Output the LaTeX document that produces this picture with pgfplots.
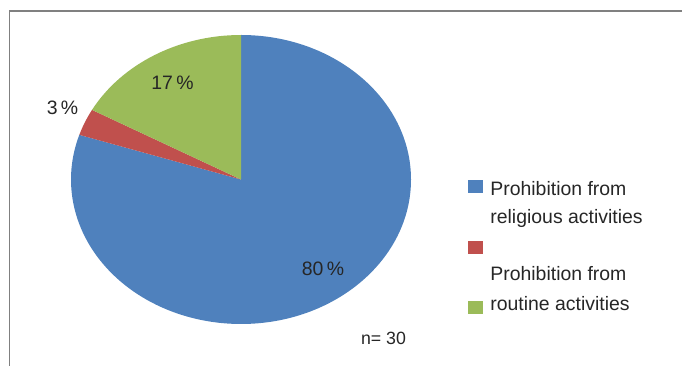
\documentclass[border=0pt]{standalone}
\usepackage{pgfplots}
\pgfplotsset{compat=1.18}
\usepackage{fontspec}
\setmainfont{Liberation Sans}
\definecolor{cblue}{HTML}{4F81BD}
\definecolor{cred}{HTML}{C0504D}
\definecolor{cgreen}{HTML}{9BBB59}
\definecolor{ctext}{HTML}{262626}
\definecolor{cframe}{HTML}{808080}
% slice values (percent)
\def\vA{80}\def\vB{3}\def\vC{17}
\begin{document}
\begin{tikzpicture}[font=\fontsize{9.75}{11}\selectfont, text=ctext]
\begin{axis}[
  scale only axis, width=341bp, height=183bp,
  xmin=0, xmax=682, ymin=0, ymax=366,
  hide axis, clip=false]
\coordinate (BL) at (axis cs:0,0);
\coordinate (TR) at (axis cs:682,366);
% frame
\draw[cframe, line width=0.8bp] (axis cs:9.5,0) -- (axis cs:9.5,355) -- (axis cs:682,355);
% pie
\pgfmathsetmacro{\aA}{90}
\pgfmathsetmacro{\aB}{90-3.6*\vA}
\pgfmathsetmacro{\aC}{\aB-3.6*\vB}
\pgfmathsetmacro{\aD}{\aC-3.6*\vC}
\def\cx{241}\def\cy{186.5}\def\rx{170}\def\ry{144.5}
\fill[cblue] (axis cs:\cx,\cy) -- (axis cs:{\cx+\rx*cos(\aA)},{\cy+\ry*sin(\aA)}) arc[start angle=\aA, end angle=\aB, x radius=85bp, y radius=72.25bp] -- cycle;
\fill[cred] (axis cs:\cx,\cy) -- (axis cs:{\cx+\rx*cos(\aB)},{\cy+\ry*sin(\aB)}) arc[start angle=\aB, end angle=\aC, x radius=85bp, y radius=72.25bp] -- cycle;
\fill[cgreen] (axis cs:\cx,\cy) -- (axis cs:{\cx+\rx*cos(\aC)},{\cy+\ry*sin(\aC)}) arc[start angle=\aC, end angle=\aD, x radius=85bp, y radius=72.25bp] -- cycle;
% labels
\node at (axis cs:323,97) {80\,\%};
\node at (axis cs:172.5,283.5) {17\,\%};
\node at (axis cs:62.5,258.5) {3\,\%};
\node[font=\fontsize{8.9}{10}\selectfont] at (axis cs:383.5,27.5) {n= 30};
% legend
\fill[cblue] (axis cs:467.7,186) rectangle (axis cs:482.7,173.3);
\fill[cred] (axis cs:467.7,125) rectangle (axis cs:482.7,112.3);
\fill[cgreen] (axis cs:467.7,65) rectangle (axis cs:482.7,52);
\node[anchor=base west, inner sep=0pt] at (axis cs:490,170.3) {Prohibition from};
\node[anchor=base west, inner sep=0pt] at (axis cs:490,142) {religious activities};
\node[anchor=base west, inner sep=0pt] at (axis cs:490,85.3) {Prohibition from};
\node[anchor=base west, inner sep=0pt] at (axis cs:490,56) {routine activities};
\end{axis}
\pgfresetboundingbox
\useasboundingbox (BL) rectangle (TR);
\end{tikzpicture}
\end{document}
